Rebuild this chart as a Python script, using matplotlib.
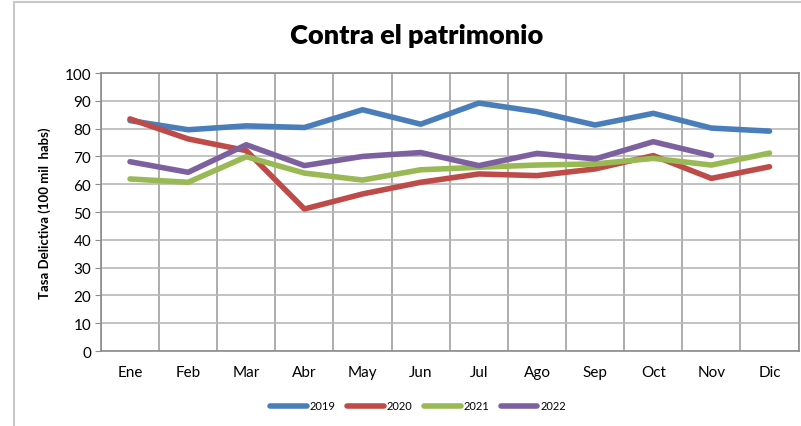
import matplotlib
matplotlib.use("Agg")
import matplotlib.pyplot as plt
from matplotlib.lines import Line2D

months = ["Ene", "Feb", "Mar", "Abr", "May", "Jun", "Jul", "Ago", "Sep", "Oct", "Nov", "Dic"]
s2019 = [82.9, 79.6, 81.0, 80.4, 86.8, 81.6, 89.2, 86.1, 81.3, 85.5, 80.2, 79.1]
s2020 = [83.5, 76.3, 72.1, 51.1, 56.5, 60.7, 63.7, 63.1, 65.5, 70.3, 62.1, 66.3]
s2021 = [61.9, 60.7, 69.9, 64.0, 61.5, 65.2, 66.1, 66.9, 67.3, 69.3, 66.9, 71.2]
s2022 = [68.1, 64.3, 74.2, 66.7, 70.0, 71.4, 66.7, 71.1, 69.1, 75.3, 70.3]
series = [("2019", s2019, "#4a7ebb"), ("2020", s2020, "#be4b48"),
          ("2021", s2021, "#98b954"), ("2022", s2022, "#7d60a0")]

plt.rcParams['font.family'] = ['Lato', 'DejaVu Sans']

fig = plt.figure(figsize=(8.01, 4.27), dpi=100)
ax = fig.add_axes([0.126, 0.1756, 0.871, 0.651])

for name, vals, col in series:
    ax.plot(range(len(vals)), vals, color=col, lw=4, solid_capstyle='round',
            solid_joinstyle='round', label=name)

ax.set_xlim(-0.5, 11.5)
ax.set_ylim(0, 100)
ax.set_yticks(range(0, 101, 10))
ax.set_xticks(range(12))
ax.set_xticklabels(months)
for b in [i - 0.5 for i in range(13)]:
    ax.axvline(b, color="#a0a0a0", lw=1.2, zorder=0)
ax.grid(axis='y', color="#b8b8b8", lw=1.2, zorder=0)
ax.set_axisbelow(True)
for sp in ax.spines.values():
    sp.set_color("#8c8c8c")
    sp.set_linewidth(1.2)
ax.tick_params(axis='x', length=0, pad=10, labelsize=11)
ax.tick_params(axis='y', length=4, color="#8c8c8c", labelsize=11, pad=3)

ax.set_ylabel("Tasa Delictiva (100 mil  habs)", fontsize=9.5, fontweight='bold', labelpad=10)
fig.text(0.52, 0.915, "Contra el patrimonio", ha='center', va='center',
         fontsize=19.5, fontweight='heavy')

handles = [Line2D([0], [0], color=c, lw=4, solid_capstyle='round') for _, _, c in series]
fig.legend(handles, [n for n, _, _ in series], loc='center', bbox_to_anchor=(0.522, 0.047),
           ncol=4, frameon=False, fontsize=8, handlelength=3.3, columnspacing=1.0,
           handletextpad=0.3)

# outer chart border
fig.add_artist(plt.Line2D([0.0175, 0.0175], [0.0, 0.993], color="#c8c8c8", lw=1.5,
                          transform=fig.transFigure))
fig.add_artist(plt.Line2D([0.0175, 1.0], [0.993, 0.993], color="#c8c8c8", lw=1.5,
                          transform=fig.transFigure))

fig.savefig("out.png", dpi=100)
